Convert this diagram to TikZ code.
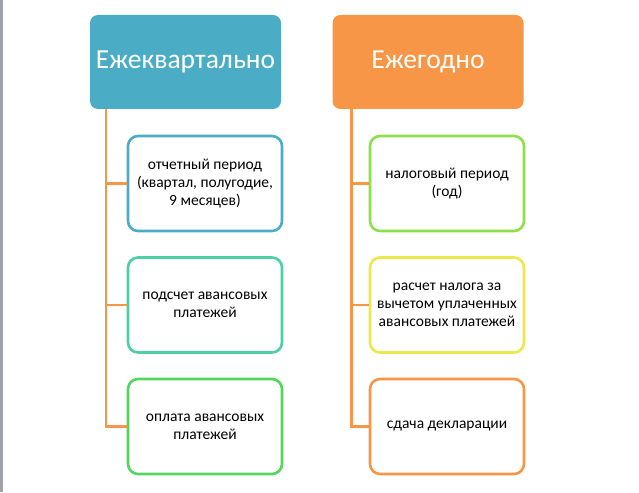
\documentclass[tikz,border=0pt]{standalone}
\usepackage{fontspec}
\setmainfont{Carlito}
\usetikzlibrary{positioning}

\definecolor{hdrblue}{HTML}{4BACC6}
\definecolor{hdrorange}{HTML}{F79646}
\definecolor{seagreen}{HTML}{4DCFA2}
\definecolor{brightgreen}{HTML}{52D65E}
\definecolor{limegreen}{HTML}{8EE04A}
\definecolor{lemon}{HTML}{EBE84C}
\definecolor{edgegray}{HTML}{A0A4A8}

\begin{document}
\begin{tikzpicture}[x=1pt,y=-1pt,node distance=121.5pt,on grid,
  hdr/.style={rectangle,rounded corners=8pt,minimum width=191pt,minimum height=94pt,
    text=white,font=\fontsize{27.5}{32}\selectfont,inner sep=0pt},
  item/.style={rectangle,rounded corners=10pt,draw,line width=2.6pt,fill=white,
    minimum width=154pt,minimum height=95pt,align=center,inner sep=2pt,
    font=\fontsize{15.5}{18}\selectfont,text=black},
  link/.style={draw=hdrorange,line width=2.6pt}]
  \useasboundingbox (0,0) rectangle (639,492);
  \fill[edgegray] (0,0) rectangle (2.5,492);

  \node[hdr,fill=hdrblue] (quart) at (185.5,62) {Ежеквартально};
  \node[hdr,fill=hdrorange] (year) at (428,62) {Ежегодно};

  \node[item,draw=hdrblue] (q1) [below=121.5pt of quart,xshift=19.5pt] {отчетный период\\(квартал, полугодие,\\9 месяцев)};
  \node[item,draw=seagreen] (q2) [below=of q1] {подсчет авансовых\\платежей};
  \node[item,draw=brightgreen] (q3) [below=of q2] {оплата авансовых\\платежей};

  \node[item,draw=limegreen] (y1) [below=121.5pt of year,xshift=19pt] {налоговый период\\(год)};
  \node[item,draw=lemon] (y2) [below=of y1] {расчет налога за\\вычетом уплаченных\\авансовых платежей};
  \node[item,draw=hdrorange] (y3) [below=of y2] {сдача декларации};

  \foreach \k in {q1,q2,q3}
    \draw[link] ([xshift=16pt]quart.south west) |- (\k.west);
  \foreach \k in {y1,y2,y3}
    \draw[link] ([xshift=19pt]year.south west) |- (\k.west);
\end{tikzpicture}
\end{document}
